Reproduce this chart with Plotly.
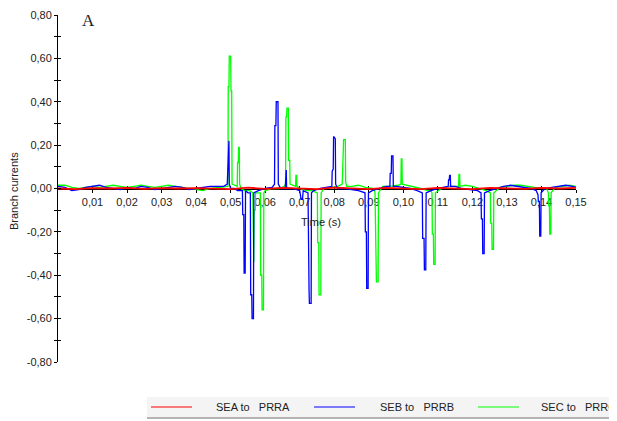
import plotly.graph_objects as go

# ---------------- data ----------------
series_names = ["SEA to\u00a0\u00a0\u00a0PRRA", "SEB to\u00a0\u00a0\u00a0PRRB", "SEC to\u00a0\u00a0\u00a0PRRC"]
series_colors = ["#ff0000", "#0000ff", "#00ff00"]

red_t = [0.000, 0.005, 0.010, 0.015, 0.020, 0.025, 0.030, 0.035, 0.040, 0.045, 0.050,
         0.055, 0.060, 0.065, 0.070, 0.075, 0.080, 0.085, 0.090, 0.095, 0.100,
         0.105, 0.110, 0.115, 0.120, 0.125, 0.130, 0.135, 0.140, 0.145, 0.150]
red_v = [0.000, -0.003, 0.002, 0.000, 0.003, -0.002, 0.002, 0.000, 0.002, 0.000, -0.003,
         0.004, -0.002, 0.003, 0.000, -0.003, 0.004, 0.000, -0.003, 0.003, 0.000,
         -0.003, 0.003, 0.000, -0.003, 0.003, 0.000, -0.002, 0.003, 0.000, 0.003]

blue_t = [0.000, 0.002, 0.004, 0.006, 0.008, 0.010, 0.012, 0.014, 0.016, 0.018, 0.020,
          0.022, 0.024, 0.026, 0.028, 0.030, 0.032, 0.034, 0.036, 0.038, 0.040, 0.042,
          0.044, 0.046, 0.048,
          0.0490, 0.0491, 0.0493, 0.0495, 0.0496, 0.0500, 0.0510, 0.0520,
          0.0534, 0.0535, 0.0538, 0.0539, 0.0542, 0.0543, 0.0550,
          0.0557, 0.0558, 0.0561, 0.0562, 0.0566, 0.0567, 0.0580, 0.0600, 0.0620,
          0.0627, 0.0628, 0.0631, 0.0632, 0.0637, 0.0638, 0.0645,
          0.0658, 0.0659, 0.0661, 0.0662, 0.0680, 0.0700, 0.0704, 0.0708, 0.0710,
          0.0724, 0.0725, 0.0727, 0.0728, 0.0733, 0.0734, 0.0740, 0.0760, 0.0780,
          0.0793, 0.0794, 0.0797, 0.0798, 0.0803, 0.0804, 0.0810, 0.0830, 0.0850, 0.0870,
          0.0889, 0.0890, 0.0893, 0.0894, 0.0898, 0.0899, 0.0910, 0.0930, 0.0950,
          0.0961, 0.0962, 0.0965, 0.0966, 0.0970, 0.0971, 0.0980, 0.1000, 0.1020, 0.1040,
          0.1055, 0.1056, 0.1060, 0.1061, 0.1065, 0.1066, 0.1080, 0.1100, 0.1120,
          0.1130, 0.1131, 0.1133, 0.1134, 0.1136, 0.1137, 0.1150, 0.1170, 0.1190, 0.1215,
          0.1225, 0.1226, 0.1229, 0.1230, 0.1234, 0.1235, 0.1250, 0.1270, 0.1290, 0.1310,
          0.1330, 0.1350, 0.1370, 0.1385,
          0.1390, 0.1391, 0.1394, 0.1395, 0.1398, 0.1399, 0.1410, 0.1430, 0.1450, 0.1470,
          0.1490, 0.1500]
blue_v = [0.010, 0.005, -0.010, -0.005, 0.005, 0.010, 0.015, 0.005, 0.000, -0.005, 0.005,
          0.000, 0.010, 0.005, -0.005, 0.000, 0.005, 0.010, 0.005, -0.005, 0.000, 0.005,
          0.010, 0.010, 0.010,
          0.020, 0.130, 0.130, 0.220, 0.020, 0.000, 0.000, -0.010,
          -0.010, -0.120, -0.120, -0.390, -0.390, -0.010, -0.020,
          -0.020, -0.490, -0.490, -0.600, -0.600, -0.020, -0.010, 0.000, 0.005,
          0.020, 0.290, 0.290, 0.400, 0.400, 0.020, 0.000,
          0.000, 0.085, 0.085, 0.000, 0.000, -0.010, -0.050, -0.050, -0.010,
          -0.020, -0.470, -0.470, -0.530, -0.530, -0.020, -0.010, 0.000, 0.005,
          0.010, 0.080, 0.090, 0.240, 0.230, 0.020, 0.000, 0.000, -0.005, -0.010,
          -0.020, -0.200, -0.200, -0.460, -0.460, -0.020, -0.010, 0.000, 0.010,
          0.010, 0.070, 0.070, 0.150, 0.150, 0.010, 0.010, 0.005, 0.000, -0.010,
          -0.020, -0.230, -0.230, -0.375, -0.375, -0.020, -0.010, 0.000, 0.005,
          0.010, 0.040, 0.040, 0.060, 0.060, 0.010, 0.010, 0.000, -0.005, -0.010,
          -0.020, -0.140, -0.140, -0.300, -0.300, -0.020, -0.010, 0.000, 0.010, 0.015,
          0.010, 0.005, 0.000, -0.010,
          -0.030, -0.060, -0.060, -0.220, -0.220, -0.020, 0.000, 0.005, 0.010, 0.015,
          0.010, 0.005]

green_t = [0.000, 0.002, 0.004, 0.006, 0.008, 0.010, 0.012, 0.014, 0.016, 0.018, 0.020,
           0.022, 0.024, 0.026, 0.028, 0.030, 0.032, 0.034, 0.036, 0.038, 0.040, 0.042,
           0.044, 0.046, 0.048,
           0.0492, 0.0493, 0.0495, 0.0496, 0.0500, 0.0501, 0.0503, 0.0504,
           0.0519, 0.0520, 0.0522, 0.0523, 0.0525, 0.0526, 0.0530, 0.0540, 0.0555,
           0.0564, 0.0565, 0.0567, 0.0568, 0.0571, 0.0572,
           0.0586, 0.0587, 0.0590, 0.0591, 0.0595, 0.0596, 0.0600, 0.0620, 0.0640, 0.0655,
           0.0659, 0.0660, 0.0662, 0.0663, 0.0667, 0.0668, 0.0671, 0.0672,
           0.0688, 0.0689, 0.0691, 0.0692, 0.0700, 0.0720, 0.0735,
           0.0751, 0.0752, 0.0755, 0.0756, 0.0761, 0.0762, 0.0770, 0.0790, 0.0810,
           0.0823, 0.0824, 0.0826, 0.0827, 0.0832, 0.0833, 0.0836, 0.0850, 0.0870, 0.0890, 0.0915,
           0.0918, 0.0919, 0.0921, 0.0922, 0.0927, 0.0928, 0.0940, 0.0960, 0.0985,
           0.0993, 0.0994, 0.0996, 0.0997, 0.1010, 0.1030, 0.1050, 0.1070, 0.1080,
           0.1083, 0.1084, 0.1087, 0.1088, 0.1092, 0.1093, 0.1110, 0.1130, 0.1150,
           0.1160, 0.1161, 0.1163, 0.1164, 0.1180, 0.1200, 0.1220, 0.1240,
           0.1252, 0.1253, 0.1256, 0.1257, 0.1261, 0.1262, 0.1280, 0.1300, 0.1320, 0.1340,
           0.1360, 0.1380, 0.1415,
           0.1420, 0.1421, 0.1423, 0.1424, 0.1427, 0.1428, 0.1440, 0.1460, 0.1480, 0.1500]
green_v = [0.015, 0.015, 0.005, 0.000, 0.005, 0.010, 0.005, 0.010, 0.015, 0.010, 0.005,
           0.010, 0.015, 0.010, 0.005, 0.010, 0.015, 0.010, 0.005, 0.000, -0.005, -0.010,
           0.000, 0.005, 0.010,
           0.010, 0.470, 0.470, 0.610, 0.610, 0.450, 0.450, 0.020,
           0.010, 0.120, 0.120, 0.190, 0.190, 0.020, 0.000, -0.010, -0.010,
           -0.020, -0.340, -0.340, -0.100, -0.100, -0.020,
           -0.020, -0.400, -0.400, -0.560, -0.560, -0.020, -0.010, 0.000, 0.000, 0.010,
           0.020, 0.330, 0.330, 0.370, 0.370, 0.130, 0.130, 0.020,
           0.010, 0.060, 0.060, 0.010, 0.000, -0.010, -0.010,
           -0.020, -0.250, -0.250, -0.490, -0.490, -0.020, 0.000, 0.005, 0.010,
           0.020, 0.170, 0.170, 0.225, 0.225, 0.030, 0.010, 0.010, 0.015, 0.005, 0.000,
           -0.020, -0.160, -0.160, -0.430, -0.430, -0.020, 0.010, 0.010, 0.015,
           0.020, 0.137, 0.137, 0.020, 0.015, 0.010, 0.000, -0.010, -0.010,
           -0.020, -0.210, -0.210, -0.350, -0.350, -0.020, 0.000, 0.010, 0.010,
           0.010, 0.065, 0.065, 0.010, 0.015, 0.010, 0.000, -0.010,
           -0.020, -0.160, -0.160, -0.280, -0.280, -0.020, 0.005, 0.010, 0.015, 0.015,
           0.010, 0.005, 0.000,
           -0.020, -0.080, -0.080, -0.210, -0.210, -0.020, 0.005, 0.010, 0.015, 0.010]

x_tick_vals = [0.01, 0.02, 0.03, 0.04, 0.05, 0.06, 0.07, 0.08, 0.09, 0.10,
               0.11, 0.12, 0.13, 0.14, 0.15]
x_tick_text = ["0,01", "0,02", "0,03", "0,04", "0,05", "0,06", "0,07", "0,08", "0,09", "0,10",
               "0,11", "0,12", "0,13", "0,14", "0,15"]
y_tick_vals = [-0.8, -0.6, -0.4, -0.2, 0.0, 0.2, 0.4, 0.6, 0.8]
y_tick_text = ["-0,80", "-0,60", "-0,40", "-0,20", "0,00", "0,20", "0,40", "0,60", "0,80"]
y_minor_vals = [-0.7, -0.5, -0.3, -0.1, 0.1, 0.3, 0.5, 0.7]

# ---------------- geometry ----------------
# page body adds an 8px offset; targets below are in screenshot pixels
OFF = 8
W, H = 617, 421
PLOT_LEFT, PLOT_RIGHT, PLOT_TOP, PLOT_BOTTOM = 58, 576, 15, 362
ML, MT = PLOT_LEFT - OFF, PLOT_TOP - OFF
MR = W - (PLOT_RIGHT - OFF)
MB = H - (PLOT_BOTTOM - OFF)
PW, PH = W - ML - MR, H - MT - MB


def px(xpix):
    return (xpix - OFF - ML) / PW


def py(ypix):
    return (H - MB - (ypix - OFF)) / PH


FONT = "Liberation Sans, Arial, sans-serif"

fig = go.Figure()
order = [(2, green_t, green_v), (1, blue_t, blue_v), (0, red_t, red_v)]
for idx, t, v in order:
    fig.add_trace(go.Scatter(
        x=t, y=v, mode="lines", name=series_names[idx],
        line=dict(color=series_colors[idx], width=1.3 if idx else 1.8),
        showlegend=False, hoverinfo="skip"))
# helper trace so overlay axes are drawn
fig.add_trace(go.Scatter(x=[None], y=[None], xaxis="x2", yaxis="y2", showlegend=False))

axis_common = dict(showgrid=False, zeroline=False, tickcolor="black", tickwidth=1,
                   ticklen=3, automargin=False)
fig.update_layout(
    width=W, height=H,
    margin=dict(l=ML, r=MR, t=MT, b=MB),
    paper_bgcolor="white", plot_bgcolor="white",
    font=dict(family=FONT, size=11, color="#222222"),
    showlegend=False,
    xaxis=dict(range=[0, 0.15], anchor="free", position=0.5, showline=True,
               linecolor="black", linewidth=1, tickmode="array", layer="below traces",
               tickvals=x_tick_vals, ticktext=x_tick_text, ticks="outside",
               tickfont=dict(size=11, color="#222222"), **axis_common),
    xaxis2=dict(range=[0, 0.15], overlaying="x", anchor="free", position=0.5,
                showline=False, tickmode="array", tickvals=x_tick_vals, layer="below traces",
                ticks="inside", showticklabels=False, **axis_common),
    yaxis=dict(range=[-0.8, 0.8], showline=True, linecolor="black", linewidth=1,
               tickmode="array", tickvals=y_tick_vals, ticktext=y_tick_text,
               ticks="outside", tickfont=dict(size=11, color="#222222"),
               ticklabeloverflow="allow",
               minor=dict(tickmode="array", tickvals=y_minor_vals, ticks="outside",
                          ticklen=3, tickcolor="black"),
               **axis_common),
    yaxis2=dict(range=[-0.8, 0.8], overlaying="y", anchor="x", side="left",
                showline=False, tickmode="array", tickvals=y_tick_vals,
                ticks="inside", showticklabels=False,
                minor=dict(tickmode="array", tickvals=y_minor_vals, ticks="inside",
                           ticklen=3, tickcolor="black"),
                **axis_common),
)

annotations = [
    dict(text="A", x=px(88), y=py(20), xref="paper", yref="paper", showarrow=False,
         xanchor="center", yanchor="middle",
         font=dict(family="Liberation Serif, DejaVu Serif, serif", size=17, color="#222222")),
    dict(text="Branch currents", x=px(14), y=py(191), xref="paper", yref="paper",
         showarrow=False, textangle=-90, xanchor="center", yanchor="middle",
         font=dict(family=FONT, size=11, color="#222222")),
    dict(text="Time (s)", x=px(321), y=py(222), xref="paper", yref="paper",
         showarrow=False, xanchor="center", yanchor="middle",
         font=dict(family=FONT, size=11, color="#222222")),
]

# custom legend box (runs off the right edge like the reference)
shapes = [
    dict(type="rect", xref="paper", yref="paper", x0=px(147), x1=px(640),
         y0=py(417), y1=py(397), fillcolor="#f4f4f4", line=dict(width=0), layer="below"),
    dict(type="line", xref="paper", yref="paper", x0=px(147), x1=px(640),
         y0=py(418), y1=py(418), line=dict(color="#b4b4b4", width=2)),
]
leg_line_x = [(151, 192), (314, 355), (478, 519)]
leg_text_x = [214, 378, 539]
for i in range(3):
    x0, x1 = leg_line_x[i]
    shapes.append(dict(type="line", xref="paper", yref="paper", x0=px(x0), x1=px(x1),
                       y0=py(407), y1=py(407),
                       line=dict(color=series_colors[i], width=1)))
    annotations.append(dict(text=series_names[i], x=px(leg_text_x[i]), y=py(407),
                            xref="paper", yref="paper", showarrow=False,
                            xanchor="left", yanchor="middle",
                            font=dict(family=FONT, size=11, color="#222222")))

fig.update_layout(annotations=annotations, shapes=shapes)
fig.write_html("out.html")
